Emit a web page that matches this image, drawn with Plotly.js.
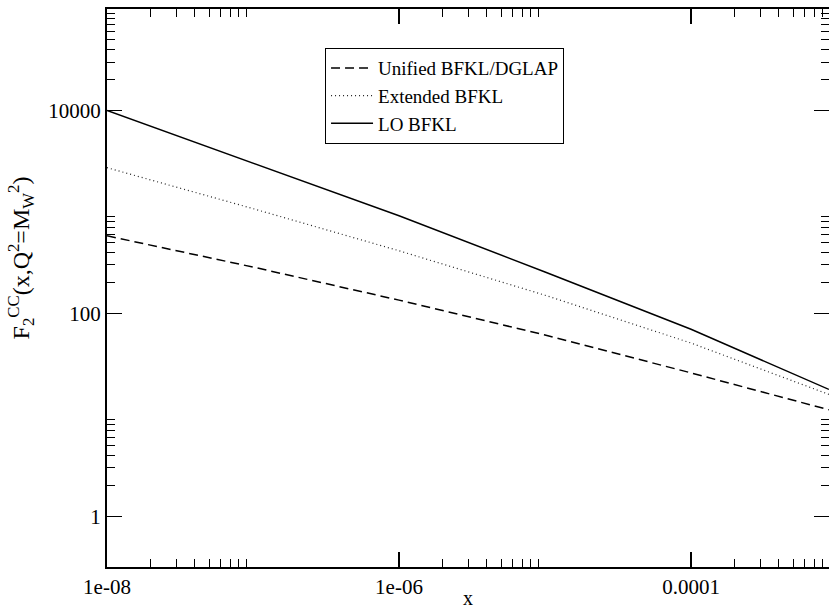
<!DOCTYPE html>
<html>
<head>
<meta charset="utf-8">
<script src="https://cdn.plot.ly/plotly-3.0.1.min.js"></script>
<style>html,body{margin:0;padding:0;background:#fff;}#plot{width:829px;height:609px;}</style>
</head>
<body>
<div id="plot"></div>
<script>
// Data (log-log)
const xValues = [1e-8, 1e-7, 1e-6, 1e-5, 1e-4, 8.8e-4];
const unifiedBFKLDGLAP = [581, 286, 135, 61.2, 25.9, 11.2];
const extendedBFKL = [2730, 1077, 414, 151, 51, 15.9];
const loBFKL = [10000, 3035, 916, 256, 69.8, 17.8];

const seriesNames = ["Unified BFKL/DGLAP", "Extended BFKL", "LO BFKL"];

const xMajorTicks = [1e-8, 1e-6, 1e-4];
const xMajorLabels = ["1e-08", "1e-06", "0.0001"];
const xMinorTicks = [2e-8,3e-8,4e-8,5e-8,6e-8,7e-8,8e-8,9e-8,
                     2e-6,3e-6,4e-6,5e-6,6e-6,7e-6,8e-6,9e-6,
                     2e-4,3e-4,4e-4,5e-4,6e-4,7e-4,8e-4,9e-4];
const yMajorTicks = [1, 100, 10000];
const yMajorLabels = ["1", "100", "10000"];
const yMinorTicks = [2,3,4,5,6,7,8,9,
                     200,300,400,500,600,700,800,900,
                     20000,30000,40000,50000,60000,70000,80000,90000];

const FAMILY = "Liberation Serif";

const traces = [
  {x: xValues, y: unifiedBFKLDGLAP, name: seriesNames[0], mode: "lines",
   line: {color: "#000", width: 1.5, dash: "9px,5px"}},
  {x: xValues, y: extendedBFKL, name: seriesNames[1], mode: "lines",
   line: {color: "#222", width: 1.2, dash: "1px,3px"}},
  {x: xValues, y: loBFKL, name: seriesNames[2], mode: "lines",
   line: {color: "#000", width: 1.5}}
];

const axisCommon = {
  type: "log", showgrid: false, zeroline: false,
  showline: true, linecolor: "#000", linewidth: 2, mirror: "ticks",
  ticks: "inside", ticklen: 15, tickwidth: 1.5, tickcolor: "#000",
  tickfont: {family: FAMILY, size: 21, color: "#000"}
};

const layout = {
  width: 829, height: 609,
  margin: {l: 107, r: 0, t: 9, b: 42},
  paper_bgcolor: "#fff", plot_bgcolor: "#fff",
  font: {family: FAMILY, size: 20, color: "#000"},
  showlegend: true,
  legend: {x: 0.302, y: 0.93, xanchor: "left", yanchor: "top",
           bordercolor: "#000", borderwidth: 1, bgcolor: "#fff",
           itemwidth: 42,
           font: {family: FAMILY, size: 19, color: "#000"}, tracegroupgap: 0},
  xaxis: Object.assign({}, axisCommon, {
    range: [-8, -3.055], tickmode: "array", tickvals: xMajorTicks, ticktext: xMajorLabels,
    minor: {tickmode: "array", tickvals: xMinorTicks, ticks: "inside", ticklen: 8, tickwidth: 1, tickcolor: "#000", showgrid: false},
    title: {text: "x", font: {family: FAMILY, size: 20, color: "#000"}, standoff: 0}
  }),
  yaxis: Object.assign({}, axisCommon, {
    range: [-0.5, 5], tickmode: "array", tickvals: yMajorTicks, ticktext: yMajorLabels,
    minor: {tickmode: "array", tickvals: yMinorTicks, ticks: "inside", ticklen: 8, tickwidth: 1, tickcolor: "#000", showgrid: false},
    title: {text: "&nbsp;&nbsp;&nbsp;&nbsp;&nbsp;&nbsp;&nbsp;&nbsp;&nbsp;&nbsp;F<sub>2</sub><sup>CC</sup>(x,Q<sup>2</sup>=M<sub>W</sub><sup>2</sup>)", font: {family: FAMILY, size: 24, color: "#000"}, standoff: 12}
  })
};

Plotly.newPlot("plot", traces, layout, {displayModeBar: false, staticPlot: true});
</script>
</body>
</html>
